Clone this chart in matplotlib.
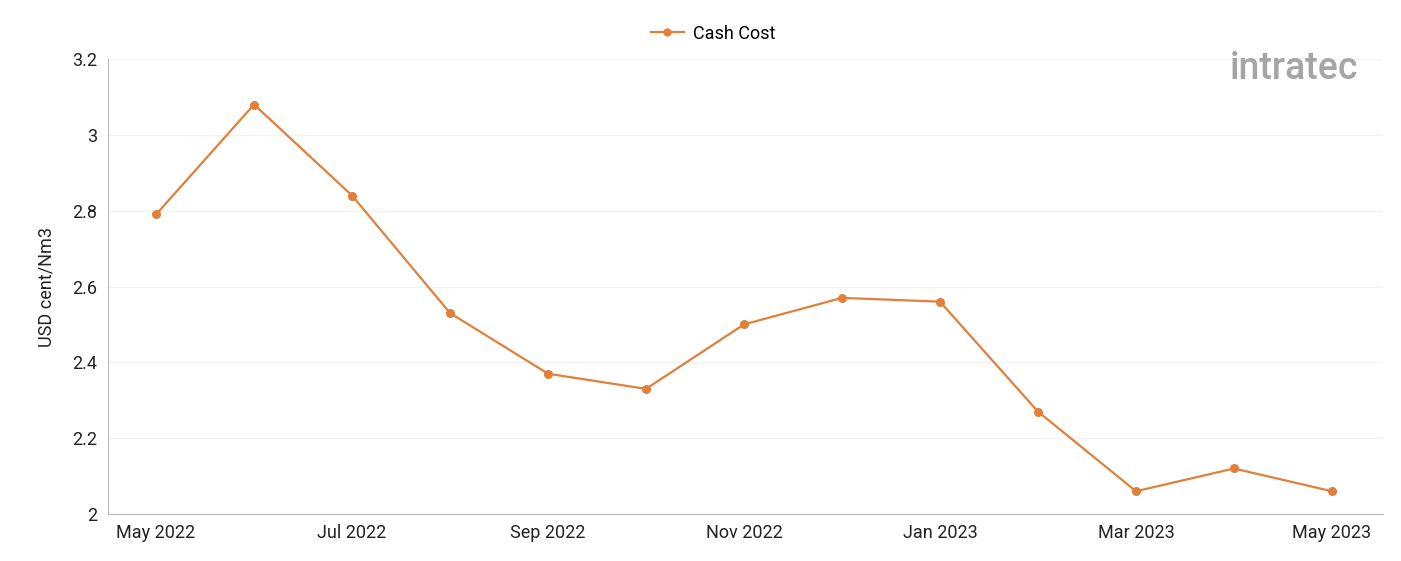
import numpy as np
import matplotlib.pyplot as plt
from matplotlib.ticker import FuncFormatter

plt.rcParams['font.family'] = ['Roboto', 'DejaVu Sans']

months = ['May 2022', 'Jun 2022', 'Jul 2022', 'Aug 2022', 'Sep 2022', 'Oct 2022',
          'Nov 2022', 'Dec 2022', 'Jan 2023', 'Feb 2023', 'Mar 2023', 'Apr 2023', 'May 2023']
cash_cost = [2.79, 3.08, 2.84, 2.53, 2.37, 2.33, 2.50, 2.57, 2.56, 2.27, 2.06, 2.12, 2.06]

color = '#E0803A'

fig = plt.figure(figsize=(14.01, 5.61), dpi=100)
ax = fig.add_axes([0.0771, 0.0838, 0.91, 0.811])

x = np.arange(len(months))
ax.plot(x, cash_cost, color=color, lw=1.6, marker='o', ms=5.5, label='Cash Cost')

ax.set_xlim(-0.49, 12.52)
ax.set_ylim(2, 3.2)
ax.set_yticks(np.arange(2, 3.21, 0.2))
ax.yaxis.set_major_formatter(FuncFormatter(lambda v, p: f'{v:g}'))
ax.set_xticks(x[::2])
ax.set_xticklabels(months[::2])
ax.tick_params(axis='both', length=0, labelsize=13, colors='#222222')
ax.tick_params(axis='x', pad=7)
ax.tick_params(axis='y', pad=8)
ax.grid(axis='y', color='#f3f3f3', lw=1)
ax.set_axisbelow(True)
for s in ['top', 'right']:
    ax.spines[s].set_visible(False)
ax.spines['left'].set_color('#bbbbbb')
ax.spines['bottom'].set_color('#bbbbbb')
ax.set_ylabel('USD cent/Nm3', fontsize=13, color='#222222', labelpad=12)

fig.legend(loc='upper center', bbox_to_anchor=(0.509, 0.985), frameon=False, fontsize=13,
           handlelength=1.8, markerscale=0.9, handletextpad=0.5)

# logo
fig.text(0.878, 0.878, 'intratec', fontsize=27, color='#a5a5a5', ha='left', va='center',
         fontweight='medium')

fig.savefig('out.png', dpi=100)
